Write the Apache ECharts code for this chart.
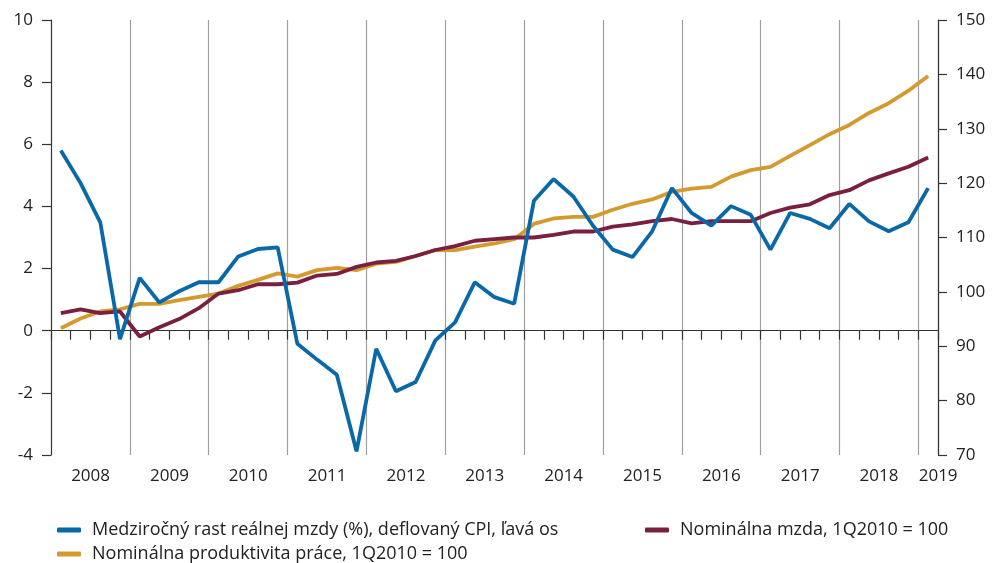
<!DOCTYPE html>
<html>
<head>
<meta charset="utf-8">
<script src="https://cdn.jsdelivr.net/npm/echarts@6/dist/echarts.min.js"></script>
<style>
  html, body { margin: 0; padding: 0; background: #fff; }
  #chart { width: 994px; height: 563px; }
</style>
</head>
<body>
<div id="chart"></div>
<script>
// quarters 1Q2008 .. 1Q2019
var quarters = [];
for (var y = 2008; y <= 2019; y++) {
  for (var q = 1; q <= 4; q++) {
    if (y === 2019 && q > 1) break;
    quarters.push(y + 'Q' + q);
  }
}

// medzirocny rast realnej mzdy (%), lava os
var realWage = [5.80, 4.75, 3.49, -0.27, 1.70, 0.91, 1.27, 1.56, 1.56, 2.39, 2.63, 2.68,
  -0.42, -0.93, -1.42, -3.88, -0.58, -1.95, -1.65, -0.31, 0.27, 1.56, 1.08, 0.87,
  4.18, 4.88, 4.32, 3.38, 2.61, 2.37, 3.20, 4.59, 3.79, 3.38, 4.01, 3.73,
  2.61, 3.79, 3.60, 3.30, 4.08, 3.52, 3.20, 3.49, 4.59];

// nominalna mzda, 1Q2010 = 100
var nomWage = [96.1, 96.8, 96.1, 96.4, 91.8, 93.5, 95.0, 97.0, 99.7, 100.3, 101.4, 101.4,
  101.7, 103.0, 103.3, 104.6, 105.4, 105.7, 106.6, 107.7, 108.4, 109.4, 109.7, 110.0,
  110.0, 110.5, 111.1, 111.1, 112.0, 112.4, 113.0, 113.4, 112.6, 113.0, 113.0, 113.0,
  114.5, 115.5, 116.1, 117.8, 118.7, 120.5, 121.8, 123.0, 124.7];

// nominalna produktivita prace, 1Q2010 = 100
var nomProd = [93.3, 95.1, 96.4, 96.8, 97.8, 97.8, 98.5, 99.1, 99.7, 101.1, 102.2, 103.4,
  102.8, 104.0, 104.4, 104.0, 105.2, 105.5, 106.6, 107.7, 107.7, 108.3, 108.9, 109.7,
  112.5, 113.5, 113.8, 113.8, 115.1, 116.2, 117.0, 118.4, 119.0, 119.3, 121.2, 122.4,
  123.0, 125.0, 127.0, 129.0, 130.7, 132.9, 134.7, 137.0, 139.7];

var names = [
  'Medziročný rast reálnej mzdy (%), deflovaný CPI, ľavá os',
  'Nominálna mzda, 1Q2010 = 100',
  'Nominálna produktivita práce, 1Q2010 = 100'
];

var font = 'Open Sans';
var chart = echarts.init(document.getElementById('chart'));

function legendAt(name, left, top) {
  return {
    left: left, top: top,
    itemWidth: 24, itemHeight: 5,
    icon: 'roundRect',
    textStyle: { fontFamily: font, fontSize: 18, color: '#222', padding: [0, 0, 0, 6] },
    data: [name]
  };
}

chart.setOption({
  backgroundColor: '#fff',
  animation: false,
  textStyle: { fontFamily: font },
  grid: { left: 51, right: 56, top: 20, bottom: 108 },
  legend: [
    legendAt(names[0], 52, 516),
    legendAt(names[1], 640, 516),
    legendAt(names[2], 52, 540)
  ],
  xAxis: [{
    type: 'category',
    data: quarters,
    boundaryGap: true,
    axisLine: { onZero: true, onZeroAxisIndex: 0, lineStyle: { color: '#333', width: 1.2 } },
    axisTick: { show: true, interval: 0, length: 9, lineStyle: { color: '#333', width: 1.2 } },
    axisLabel: { show: false },
    splitLine: {
      show: true,
      interval: function (i) { return i % 4 === 0 && i > 0; },
      lineStyle: { color: '#a0a0a0', width: 1.2 }
    }
  }, {
    type: 'category',
    data: quarters,
    position: 'bottom',
    boundaryGap: true,
    axisLine: { show: false, onZero: false },
    axisTick: { show: false },
    splitLine: { show: false },
    axisLabel: {
      interval: function (i) { return i % 4 === 1 || i === quarters.length - 1; },
      formatter: function (v) { return v.slice(0, 4); },
      padding: [0, 0, 0, 20],
      margin: 13,
      fontSize: 17,
      color: '#222',
      fontFamily: font
    }
  }],
  yAxis: [{
    type: 'value',
    min: -4, max: 10, interval: 2,
    axisLine: { show: true, lineStyle: { color: '#333', width: 1.2 } },
    axisTick: { show: true, length: 9, lineStyle: { color: '#333', width: 1.2 } },
    axisLabel: { fontSize: 17, color: '#222', margin: 18, fontFamily: font },
    splitLine: { show: false }
  }, {
    type: 'value',
    min: 70, max: 150, interval: 10,
    axisLine: { show: true, lineStyle: { color: '#333', width: 1.2 } },
    axisTick: { show: true, length: 9, lineStyle: { color: '#333', width: 1.2 } },
    axisLabel: { fontSize: 17, color: '#222', margin: 18, fontFamily: font },
    splitLine: { show: false }
  }],
  series: [{
    name: names[2],
    type: 'line',
    yAxisIndex: 1,
    data: nomProd,
    symbol: 'none',
    color: '#d39a30',
    lineStyle: { width: 3.8, color: '#d39a30' }
  }, {
    name: names[1],
    type: 'line',
    yAxisIndex: 1,
    data: nomWage,
    symbol: 'none',
    color: '#7a1f3f',
    lineStyle: { width: 3.8, color: '#7a1f3f' }
  }, {
    name: names[0],
    type: 'line',
    yAxisIndex: 0,
    data: realWage,
    symbol: 'none',
    color: '#0868a8',
    lineStyle: { width: 3.8, color: '#0868a8' }
  }]
});
</script>
</body>
</html>
